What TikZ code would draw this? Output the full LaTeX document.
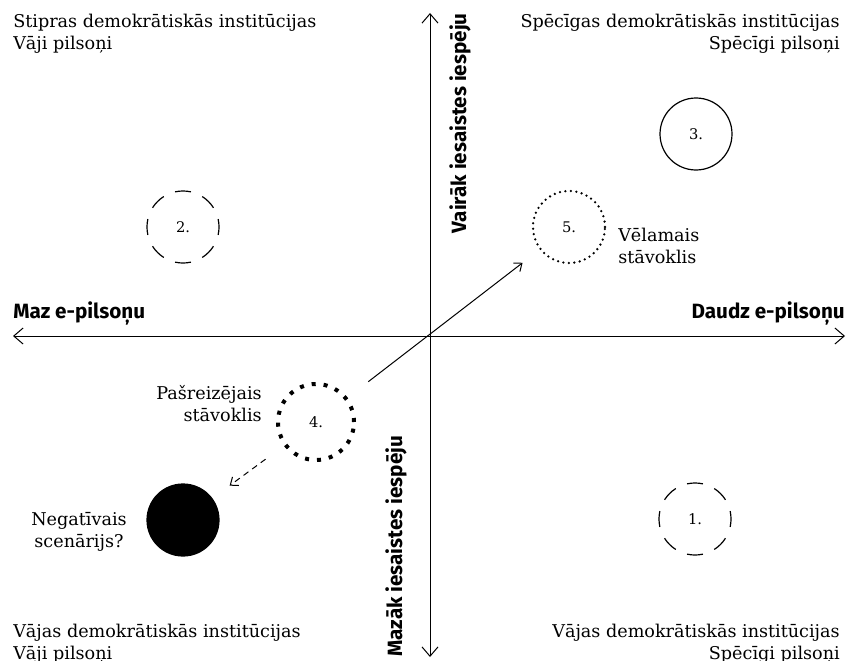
\documentclass[tikz,border=0pt]{standalone}
\usepackage{fontspec}
\setmainfont{DejaVu Serif}
\newfontfamily\axisfont{Fira Sans}
\usetikzlibrary{arrows.meta}

\begin{document}
\begin{tikzpicture}[x=0.75pt,y=-0.75pt,
  corner/.style={inner sep=0pt,font=\fontsize{13.2}{16.5}\selectfont},
  axislabel/.style={inner sep=0pt,font=\axisfont\bfseries\fontsize{15.5}{18}\selectfont},
  ring/.style={circle,draw,line width=0.9pt,minimum size=54pt,inner sep=0pt,
    font=\fontsize{11}{13}\selectfont},
  dashring/.style={dash pattern=on 12pt off 9.2pt,dash phase=6pt},
  dotring/.style={line width=1.9pt,line cap=round,dash pattern=on 0pt off 4.1pt},
  bigdotring/.style={line width=3pt,dash pattern=on 3pt off 6pt,minimum size=57pt},
  axis/.style={line width=0.75pt,{Straight Barb[length=7pt,width=12pt]}-{Straight Barb[length=7pt,width=12pt]}},
  move/.style={line width=0.75pt,-{Straight Barb[length=5pt,width=8pt]}}]
\useasboundingbox (0,0) rectangle (852,660);

% axes
\coordinate (W) at (13,336);
\coordinate (E) at (845,336);
\coordinate (N) at (430,13);
\coordinate (S) at (430,657);
\draw[axis] (W) -- (E);
\draw[axis] (S) -- (N);

\node[axislabel,anchor=base west] (few) at (13,318) {Maz e-pilsoņu};
\node[axislabel,anchor=base east] (many) at (845,318) {Daudz e-pilsoņu};
\node[axislabel,rotate=90,anchor=base east] (more) at (466,13) {Vairāk iesaistes iespēju};
\node[axislabel,rotate=90,anchor=base west] (less) at (402,657) {Mazāk iesaistes iespēju};

% quadrants (base = last line)
\node[corner,align=left,anchor=base west] (tl) at (13,50) {Stipras demokrātiskās institūcijas\\Vāji pilsoņi};
\node[corner,align=right,anchor=base east] (tr) at (840,50) {Spēcīgas demokrātiskās institūcijas\\Spēcīgi pilsoņi};
\node[corner,align=left,anchor=base west] (bl) at (13,659) {Vājas demokrātiskās institūcijas\\Vāji pilsoņi};
\node[corner,align=right,anchor=base east] (br) at (840,659) {Vājas demokrātiskās institūcijas\\Spēcīgi pilsoņi};

% states
\node[ring,dashring] (c1) at (695,519) {1.};
\node[ring,dashring] (c2) at (183,227) {2.};
\node[ring] (c3) at (696,134) {3.};
\node[ring,bigdotring] (c4) at (316,422) {4.};
\node[ring,dotring] (c5) at (569,227) {5.};
\node[ring,fill=black] (neg) at (183,520) {};

\node[corner,align=left,anchor=base west] (want) at (618,263) {Vēlamais\\stāvoklis};
\node[corner,align=right,anchor=base east] (now) at (262,421) {Pašreizējais\\stāvoklis};
\node[corner,align=center,anchor=base] (negtxt) at (79,547) {Negatīvais\\scenārijs?};

\draw[move,shorten <=19.5pt,shorten >=16pt] (c4) -- (c5);
\draw[move,dash pattern=on 4.5pt off 3.5pt,shorten <=17pt,shorten >=16pt] (c4) -- (neg);
\end{tikzpicture}
\end{document}
